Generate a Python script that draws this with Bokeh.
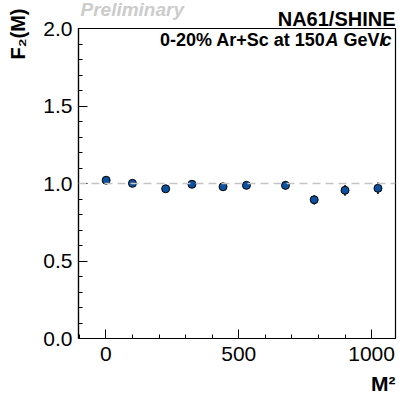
import numpy as np
from bokeh.plotting import figure
from bokeh.models import Range1d, SingleIntervalTicker, PrintfTickFormatter, Label, Span
from bokeh.embed import file_html
from bokeh.resources import INLINE

# data
m2 = [1, 100, 225, 324, 441, 529, 676, 784, 900, 1024]
f2 = [1.021, 1.001, 0.966, 0.995, 0.979, 0.988, 0.988, 0.895, 0.956, 0.969]
f2_err = [0.012, 0.012, 0.015, 0.013, 0.015, 0.016, 0.027, 0.030, 0.035, 0.037]

FONT = "Liberation Sans"
XR = (-103, 1090)
YR = (0, 2)

# layout in window pixels
EXTRA = 50                       # canvas part hidden above the window
FL, FR, FT, FB = 78, 395, 28, 338  # frame edges in the window

p = figure(width=399, height=394 + EXTRA, output_backend="svg", toolbar_location=None,
           x_range=Range1d(*XR), y_range=Range1d(*YR),
           min_border_left=FL, min_border_right=399 - FR,
           min_border_top=FT + EXTRA, min_border_bottom=394 - FB,
           margin=(-EXTRA, 0, 0, 0))
p.title.visible = False
p.background_fill_color = "white"
p.border_fill_color = "white"
p.outline_line_color = "black"
p.outline_line_width = 1.2
p.grid.visible = False

p.xaxis.ticker = SingleIntervalTicker(interval=500, num_minor_ticks=5)
p.yaxis.ticker = SingleIntervalTicker(interval=0.5, num_minor_ticks=5)
p.yaxis.formatter = PrintfTickFormatter(format="%.1f")
for ax in (p.xaxis, p.yaxis):
    ax.major_tick_in = 9
    ax.major_tick_out = 0
    ax.minor_tick_in = 4
    ax.minor_tick_out = 0
    ax.major_tick_line_color = "black"
    ax.minor_tick_line_color = "black"
    ax.axis_line_color = "black"
    ax.axis_line_width = 1.2
    ax.major_label_text_font = FONT
    ax.major_label_text_font_size = "21px"
    ax.major_label_text_color = "black"
p.xaxis.major_label_standoff = 8
p.yaxis.major_label_standoff = 6

p.add_layout(Span(location=1.0, dimension="width", line_color="#c4c4c4",
                  line_width=1.5, line_dash="8 5"))

y0 = [v - e for v, e in zip(f2, f2_err)]
y1 = [v + e for v, e in zip(f2, f2_err)]
p.segment(x0=m2, y0=y0, x1=m2, y1=y1, line_color="black", line_width=1.5)
p.scatter(m2, f2, size=8, fill_color="#0b51a0", line_color="black", line_width=1)


def xd(px):
    return XR[0] + (px - FL) * (XR[1] - XR[0]) / (FR - FL)


def yd(py):
    return YR[0] + (FB - py) * (YR[1] - YR[0]) / (FB - FT)


def lab(text, px, py, size, align="left", style="bold", color="black", angle=0,
        baseline="alphabetic", place="center"):
    p.add_layout(Label(text=text, x=xd(px), y=yd(py),
                       text_font=FONT, text_font_size=size, text_font_style=style,
                       text_color=color, text_align=align, text_baseline=baseline,
                       angle=angle), place)


# subtitle inside the frame
lab("c", 391, 39, "18px", align="right", style="bold italic")
lab("\u00a0GeV/", 384, 39, "18px", align="right")
lab("A", 338, 39, "18px", align="right", style="bold italic")
lab("0-20% Ar+Sc at 150", 325, 39, "18px", align="right")

# texts outside the frame (side panels are not clipped)
lab("Preliminary", 80, 9, "19px", style="bold italic", color="#cccccc", place="above")
lab("NA61/SHINE", 395, 18, "20px", align="right", place="above")
lab("M\u00b2", 395, 383, "21px", align="right", place="above")
lab("F\u2082(M)", 17, 8, "20px", align="right", angle=np.pi / 2, baseline="middle", place="left")

open("out.html", "w").write(file_html(p, INLINE))
